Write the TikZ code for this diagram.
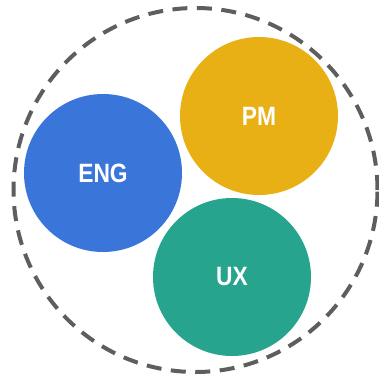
\documentclass[tikz,border=0pt]{standalone}
\usepackage{fontspec}
\setmainfont{Liberation Sans}
\newfontfamily\labelfont[FakeStretch=0.86]{Liberation Sans}
\begin{document}
\begin{tikzpicture}[x=1pt,y=-1pt,
  team/.style={circle,minimum size=158pt,inner sep=0pt,text=white,
    font=\labelfont\fontsize{26.5}{28}\selectfont\bfseries},
  boundary/.style={draw=dashgray,line width=4pt,dash pattern=on 15pt off 9.5pt}]
\definecolor{engblue}{HTML}{3A76D9}
\definecolor{pmyellow}{HTML}{E8B015}
\definecolor{uxteal}{HTML}{27A48E}
\definecolor{dashgray}{HTML}{5E5E5E}
\useasboundingbox (0,0) rectangle (379,381);
% outer team boundary
\node[boundary,circle,minimum size=364pt,inner sep=0pt] (team) at (195.5,190) {};
% the three disciplines
\node[team,fill=engblue] (eng) at (103,173) {ENG};
\node[team,fill=pmyellow] (pm) at (259,116) {PM};
\node[team,fill=uxteal] (ux) at (232,277) {UX};
\end{tikzpicture}
\end{document}
